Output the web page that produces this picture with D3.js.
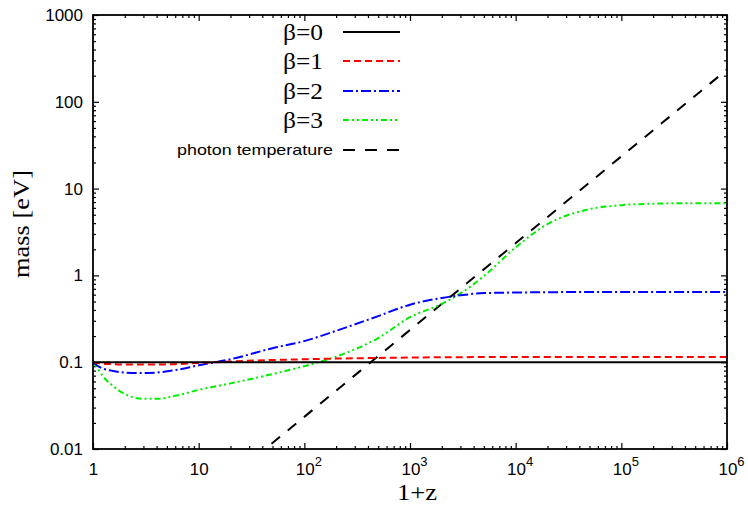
<!DOCTYPE html>
<html>
<head>
<meta charset="utf-8">
<title>mass vs 1+z</title>
<script src="https://d3js.org/d3.v7.min.js"></script>
<style>
  body { margin: 0; background: white; }
  .tick text { font-family: "Liberation Sans", Arial, sans-serif; font-size: 17px; fill: black; }
  .domain { display: none; }
  .tick line { stroke: black; stroke-width: 1.2; }
  .serif { font-family: "Liberation Serif", "Times New Roman", serif; }
  .sans { font-family: "Liberation Sans", Arial, sans-serif; }
</style>
</head>
<body>
<div id="chart"></div>
<script>
// data: 1+z grid and mass [eV] for each beta
var zVals = [1, 1.1, 1.25, 1.5, 2, 3, 4, 6, 10, 20, 50, 100, 200, 500, 1000,
  2000, 3000, 5000, 1e4, 2e4, 5e4, 1e5, 2e5, 5e5, 1e6];
var beta0 = [0.1, 0.1, 0.1, 0.1, 0.1, 0.1, 0.1, 0.1, 0.1, 0.1, 0.1, 0.1, 0.1, 0.1, 0.1,
  0.1, 0.1, 0.1, 0.1, 0.1, 0.1, 0.1, 0.1, 0.1, 0.1];
var beta1 = [0.1, 0.098, 0.096, 0.095, 0.094, 0.094, 0.094, 0.095, 0.098, 0.102, 0.106, 0.108, 0.110, 0.112, 0.113,
  0.114, 0.114, 0.115, 0.115, 0.115, 0.115, 0.115, 0.115, 0.115, 0.115];
var beta2 = [0.1, 0.091, 0.084, 0.080, 0.076, 0.075, 0.076, 0.081, 0.092, 0.108, 0.145, 0.175, 0.23, 0.34, 0.46,
  0.55, 0.59, 0.625, 0.635, 0.64, 0.645, 0.645, 0.645, 0.645, 0.645];
var beta3 = [0.1, 0.085, 0.068, 0.055, 0.043, 0.0378, 0.0378, 0.041, 0.048, 0.057, 0.073, 0.09, 0.116, 0.19, 0.33,
  0.47, 0.62, 0.98, 2.1, 3.9, 5.8, 6.45, 6.7, 6.8, 6.8];
// photon temperature T = T0 (1+z)
var photonZ = [1, 1e6];
var photonT = [2.35e-4, 235];

var legendLabels = ["β=0", "β=1", "β=2", "β=3", "photon temperature"];
var xTickExp = [0, 1, 2, 3, 4, 5, 6];
var yTickLabels = ["0.01", "0.1", "1", "10", "100", "1000"];

var W = 748, H = 507;
var m = {top: 15, right: 21, bottom: 58, left: 93};
var w = W - m.left - m.right, h = H - m.top - m.bottom;

var svg = d3.select("#chart").append("svg")
  .attr("width", W).attr("height", H);

var x = d3.scaleLog().domain([1, 1e6]).range([0, w]);
var y = d3.scaleLog().domain([0.01, 1000]).range([h, 0]);

var g = svg.append("g").attr("transform", "translate(" + m.left + "," + m.top + ")");

svg.append("defs").append("clipPath").attr("id", "clip")
  .append("rect").attr("width", w).attr("height", h);

// tick values
var xMajor = xTickExp.map(function(e) { return Math.pow(10, e); });
var yMajor = yTickLabels.map(Number);
function minors(lo, hi) {
  var out = [];
  for (var e = lo; e < hi; e++)
    for (var k = 2; k <= 9; k++) out.push(k * Math.pow(10, e));
  return out;
}
var xMinor = minors(0, 6), yMinor = minors(-2, 3);

// bottom axis
g.append("g").attr("transform", "translate(0," + h + ")")
  .call(d3.axisBottom(x).tickValues(xMinor).tickSize(-3).tickFormat(""));
var xb = g.append("g").attr("transform", "translate(0," + h + ")")
  .call(d3.axisBottom(x).tickValues(xMajor).tickSize(-6).tickPadding(14).tickFormat(""));
xb.selectAll(".tick text").each(function(d, i) {
  var t = d3.select(this).attr("dy", "0.71em");
  var e = xTickExp[i];
  if (e === 0) { t.text("1"); return; }
  if (e === 1) { t.text("10"); return; }
  t.append("tspan").text("10");
  t.append("tspan").attr("dy", -9).attr("font-size", 13).text(e);
});
xb.selectAll(".tick text").attr("transform", function(d, i) { return xTickExp[i] > 1 ? "translate(4,0)" : null; });

// top axis
g.append("g").call(d3.axisTop(x).tickValues(xMinor).tickSize(-3).tickFormat(""));
g.append("g").call(d3.axisTop(x).tickValues(xMajor).tickSize(-6).tickFormat(""));

// left axis
g.append("g").call(d3.axisLeft(y).tickValues(yMinor).tickSize(-3).tickFormat(""));
g.append("g").call(d3.axisLeft(y).tickValues(yMajor).tickSize(-6).tickPadding(10)
  .tickFormat(function(d, i) { return yTickLabels[i]; }));

// right axis
g.append("g").attr("transform", "translate(" + w + ",0)")
  .call(d3.axisRight(y).tickValues(yMinor).tickSize(-3).tickFormat(""));
g.append("g").attr("transform", "translate(" + w + ",0)")
  .call(d3.axisRight(y).tickValues(yMajor).tickSize(-6).tickFormat(""));

// series
var series = [
  {vals: beta0, color: "black", dash: null},
  {vals: beta1, color: "#ff0000", dash: "7,4"},
  {vals: beta2, color: "#0000ff", dash: "10,3,2,3"},
  {vals: beta3, color: "#00ee00", dash: "6,3,2,3,2,3"}
];

var line = d3.line()
  .x(function(d) { return x(d[0]); })
  .y(function(d) { return y(d[1]); })
  .curve(d3.curveMonotoneX);

var plot = g.append("g").attr("clip-path", "url(#clip)");

plot.append("path")
  .datum(d3.zip(photonZ, photonT))
  .attr("d", line)
  .attr("fill", "none").attr("stroke", "black").attr("stroke-width", 2)
  .attr("stroke-dasharray", "11,10");

series.slice().reverse().forEach(function(s) {
  plot.append("path")
    .datum(d3.zip(zVals, s.vals))
    .attr("d", line)
    .attr("fill", "none")
    .attr("stroke", s.color)
    .attr("stroke-width", 2)
    .attr("stroke-dasharray", s.dash);
});

// frame
g.append("rect").attr("width", w).attr("height", h)
  .attr("fill", "none").attr("stroke", "black").attr("stroke-width", 1.8);

// legend
var legendY = [32, 61, 91, 120, 150];
var legStyles = series.concat([{color: "black", dash: "12,10"}]);
var leg = svg.append("g");
legendLabels.forEach(function(lbl, i) {
  var isPhoton = i === 4;
  leg.append("text")
    .attr("class", isPhoton ? "sans" : "serif")
    .attr("x", isPhoton ? 333 : 323)
    .attr("y", legendY[i])
    .attr("dy", isPhoton ? "0.35em" : "0.33em")
    .attr("text-anchor", "end")
    .attr("font-size", isPhoton ? 15 : 23)
    .attr("textLength", isPhoton ? 156 : 40)
    .attr("lengthAdjust", "spacingAndGlyphs")
    .text(lbl);
  leg.append("line")
    .attr("x1", 343).attr("x2", 400)
    .attr("y1", legendY[i]).attr("y2", legendY[i])
    .attr("stroke", legStyles[i].color)
    .attr("stroke-width", 2)
    .attr("stroke-dasharray", legStyles[i].dash);
});

// axis titles
svg.append("text").attr("class", "serif")
  .attr("x", 417).attr("y", 500)
  .attr("text-anchor", "middle").attr("font-size", 24)
  .attr("textLength", 40).attr("lengthAdjust", "spacingAndGlyphs")
  .text("1+z");

svg.append("text").attr("class", "serif")
  .attr("transform", "translate(29,224) rotate(-90)")
  .attr("text-anchor", "middle").attr("font-size", 24)
  .attr("textLength", 108).attr("lengthAdjust", "spacingAndGlyphs")
  .text("mass [eV]");
</script>
</body>
</html>
